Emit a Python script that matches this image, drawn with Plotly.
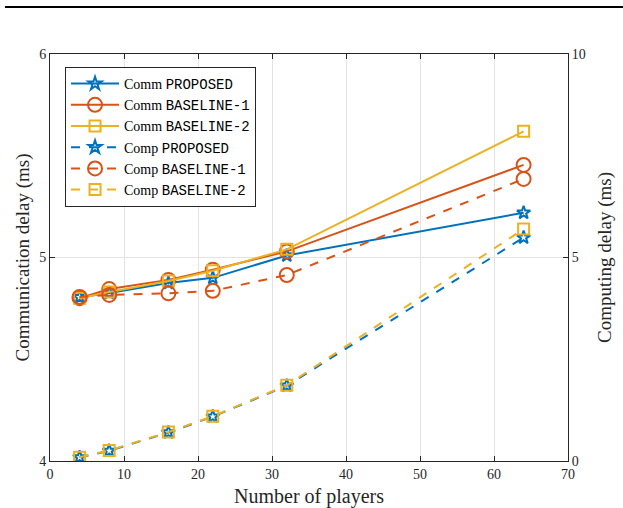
import plotly.graph_objects as go

players = [4, 8, 16, 22, 32, 64]

comm_proposed = [4.805, 4.825, 4.875, 4.90, 5.01, 5.22]
comm_baseline1 = [4.80, 4.845, 4.89, 4.94, 5.03, 5.455]
comm_baseline2 = [4.80, 4.83, 4.885, 4.935, 5.04, 5.62]

comp_proposed = [0.09, 0.25, 0.70, 1.09, 1.85, 5.49]
comp_baseline1 = [4.03, 4.08, 4.12, 4.18, 4.57, 6.93]
comp_baseline2 = [0.09, 0.26, 0.71, 1.10, 1.86, 5.70]

BLUE = "#0072BD"
ORANGE = "#D95319"
YELLOW = "#EDB120"
SERIF = "Liberation Serif"
MONO = "Liberation Mono"
AX = "#262626"


def name(prefix, tag):
    return f"{prefix} <span style='font-family:{MONO}'>{tag}</span>"


series = [
    (name("Comm", "PROPOSED"), comm_proposed, BLUE, "solid", "star-open", 10, "y"),
    (name("Comm", "BASELINE-1"), comm_baseline1, ORANGE, "solid", "circle-open", 14, "y"),
    (name("Comm", "BASELINE-2"), comm_baseline2, YELLOW, "solid", "square-open", 11, "y"),
    (name("Comp", "PROPOSED"), comp_proposed, BLUE, "dash", "star-open", 10, "y2"),
    (name("Comp", "BASELINE-1"), comp_baseline1, ORANGE, "dash", "circle-open", 14, "y2"),
    (name("Comp", "BASELINE-2"), comp_baseline2, YELLOW, "dash", "square-open", 11, "y2"),
]

fig = go.Figure()
for nm, vals, col, dash, sym, sz, ax in series:
    fig.add_trace(go.Scatter(
        x=players, y=vals, name=nm, yaxis=ax, mode="lines+markers",
        line=dict(color=col, width=2, dash=dash),
        marker=dict(symbol=sym, size=sz, color=col, line=dict(color=col, width=2)),
    ))

tickfont = dict(family=SERIF, size=14, color=AX)
fig.update_layout(
    width=623, height=508,
    margin=dict(l=50, r=55, t=54, b=47),
    paper_bgcolor="white", plot_bgcolor="white",
    font=dict(family=SERIF, size=14, color="black"),
    xaxis=dict(
        range=[0, 70], dtick=10, tick0=0, ticks="inside", ticklen=5, tickcolor=AX,
        showline=True, linecolor=AX, linewidth=1, mirror="ticks",
        showgrid=True, gridcolor="#E3E3E3", gridwidth=1, zeroline=False,
        tickfont=tickfont, automargin=False,
        title=dict(text="Number of players", font=dict(family=SERIF, size=20, color=AX), standoff=8),
    ),
    yaxis=dict(
        range=[4, 6], dtick=1, tick0=4, ticks="inside", ticklen=5, tickcolor=AX,
        showline=True, linecolor=AX, linewidth=1,
        showgrid=True, gridcolor="#E3E3E3", gridwidth=1, zeroline=False,
        tickfont=tickfont, automargin=False,
        title=dict(text="Communication delay (ms)", font=dict(family=SERIF, size=19, color=AX), standoff=4),
    ),
    yaxis2=dict(
        range=[0, 10], dtick=5, tick0=0, ticks="inside", ticklen=5, tickcolor=AX,
        overlaying="y", side="right",
        showline=True, linecolor=AX, linewidth=1,
        showgrid=False, zeroline=False,
        tickfont=tickfont, automargin=False,
        title=dict(text="Computing delay (ms)", font=dict(family=SERIF, size=19, color=AX), standoff=12),
    ),
    legend=dict(
        x=0.029, y=0.968, xanchor="left", yanchor="top",
        bgcolor="white", bordercolor="#262626", borderwidth=1,
        font=dict(family=SERIF, size=14, color="black"),
        tracegroupgap=0, itemwidth=48,
    ),
    showlegend=True,
    shapes=[dict(type="line", xref="paper", yref="paper",
                 x0=-0.087, x1=1.11, y0=1.1155, y1=1.1155,
                 line=dict(color="black", width=2))],
)

fig.write_html("out.html")
